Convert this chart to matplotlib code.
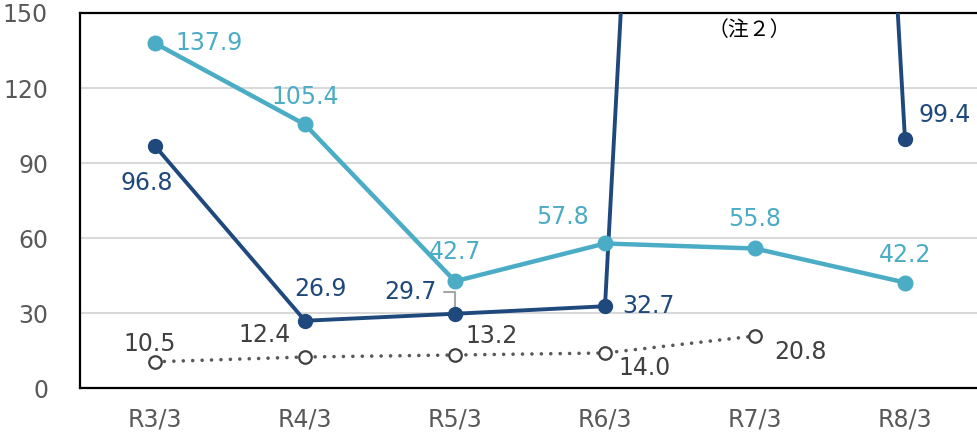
import matplotlib
matplotlib.use("Agg")
import matplotlib.pyplot as plt

# ── data ──────────────────────────────────────────────────────────────────────
categories = ["R3/3", "R4/3", "R5/3", "R6/3", "R7/3", "R8/3"]
navy_vals  = [96.8, 26.9, 29.7, 32.7, 1150.0, 99.4]   # R7/3 off the chart (注2)
navy_text  = ["96.8", "26.9", "29.7", "32.7", None, "99.4"]
light_vals = [137.9, 105.4, 42.7, 57.8, 55.8, 42.2]
gray_vals  = [10.5, 12.4, 13.2, 14.0, 20.8]
y_ticks    = [0, 30, 60, 90, 120, 150]
note_text  = "（注２）"

# ── styling ───────────────────────────────────────────────────────────────────
NAVY   = "#1F497D"
LIGHT  = "#4BACC6"
GRAY   = "#595959"
GTEXT  = "#404040"
TICK   = "#595959"
GRID   = "#D9D9D9"
FS     = 17

plt.rcParams["font.family"] = ["DejaVu Sans", "Noto Sans CJK JP"]

# label offsets (pixels) relative to each point
light_off = [(20, 0, "left"), (0, 27, "center"), (0, 29, "center"),
             (-43, 27, "center"), (0, 30, "center"), (0, 28, "center")]
navy_off  = [(-8, -37, "center"), (15, 32, "center"), (-45, 22, "center"),
             (17, 0, "left"), None, (40, 25, "center")]
gray_off  = [(-5, 18, "center"), (-40, 22, "center"), (37, 19, "center"),
             (40, -15, "center"), (45, -16, "center")]

fig = plt.figure(figsize=(9.77, 4.40), dpi=100)
ax = fig.add_axes([80 / 977, 1 - 388 / 440, 900 / 977, 375 / 440])

x = list(range(len(categories)))

# gray dotted series
ax.plot(x[:len(gray_vals)], gray_vals, color=GRAY, lw=2.6,
        linestyle=(0, (0.01, 2.6)), dash_capstyle="round", zorder=2)
ax.plot(x[:len(gray_vals)], gray_vals, linestyle="none", marker="o", ms=9,
        mfc="white", mec=GTEXT, mew=1.6, zorder=3)

# navy series
ax.plot(x, navy_vals, color=NAVY, lw=2.8, marker="o", ms=10, zorder=4)

# light blue series
ax.plot(x, light_vals, color=LIGHT, lw=3.2, marker="o", ms=10.5, zorder=5)

for xi, v, off in zip(x, light_vals, light_off):
    ax.annotate(f"{v:.1f}", (xi, v), xytext=off[:2], textcoords="offset pixels",
                ha=off[2], va="center", fontsize=FS, color=LIGHT, zorder=6)
for xi, v, t, off in zip(x, navy_vals, navy_text, navy_off):
    if t is None:
        continue
    ax.annotate(t, (xi, v), xytext=off[:2], textcoords="offset pixels",
                ha=off[2], va="center", fontsize=FS, color=NAVY, zorder=6)
for xi, v, off in zip(x, gray_vals, gray_off):
    ax.annotate(f"{v:.1f}", (xi, v), xytext=off[:2], textcoords="offset pixels",
                ha=off[2], va="center", fontsize=FS, color=GTEXT, zorder=6)

# leader line for 29.7
ax.annotate("", xy=(2, navy_vals[2]), xytext=(-11, 22), textcoords="offset pixels",
            arrowprops=dict(arrowstyle="-", color="#A6A6A6", lw=1.5,
                            shrinkA=0, shrinkB=0,
                            connectionstyle="angle,angleA=0,angleB=90,rad=0"),
            zorder=1)

# note for the off-chart value
ax.text(3.96, 143, note_text, ha="center", va="center", fontsize=15,
        color="black", family=["Noto Sans CJK JP", "DejaVu Sans"])

ax.set_xlim(-0.5, 5.5)
ax.set_ylim(0, 150)
ax.set_xticks(x)
ax.set_xticklabels(categories)
ax.set_yticks(y_ticks)
ax.tick_params(axis="both", length=0, labelsize=FS, labelcolor=TICK)
ax.tick_params(axis="x", pad=14)
ax.tick_params(axis="y", pad=23)
ax.grid(True, axis="y", color=GRID, lw=1.5)
ax.set_axisbelow(True)
for side in ["left", "top", "bottom"]:
    ax.spines[side].set_color("black")
    ax.spines[side].set_linewidth(1.6)
ax.spines["right"].set_visible(False)

fig.savefig("out.png", dpi=100)
